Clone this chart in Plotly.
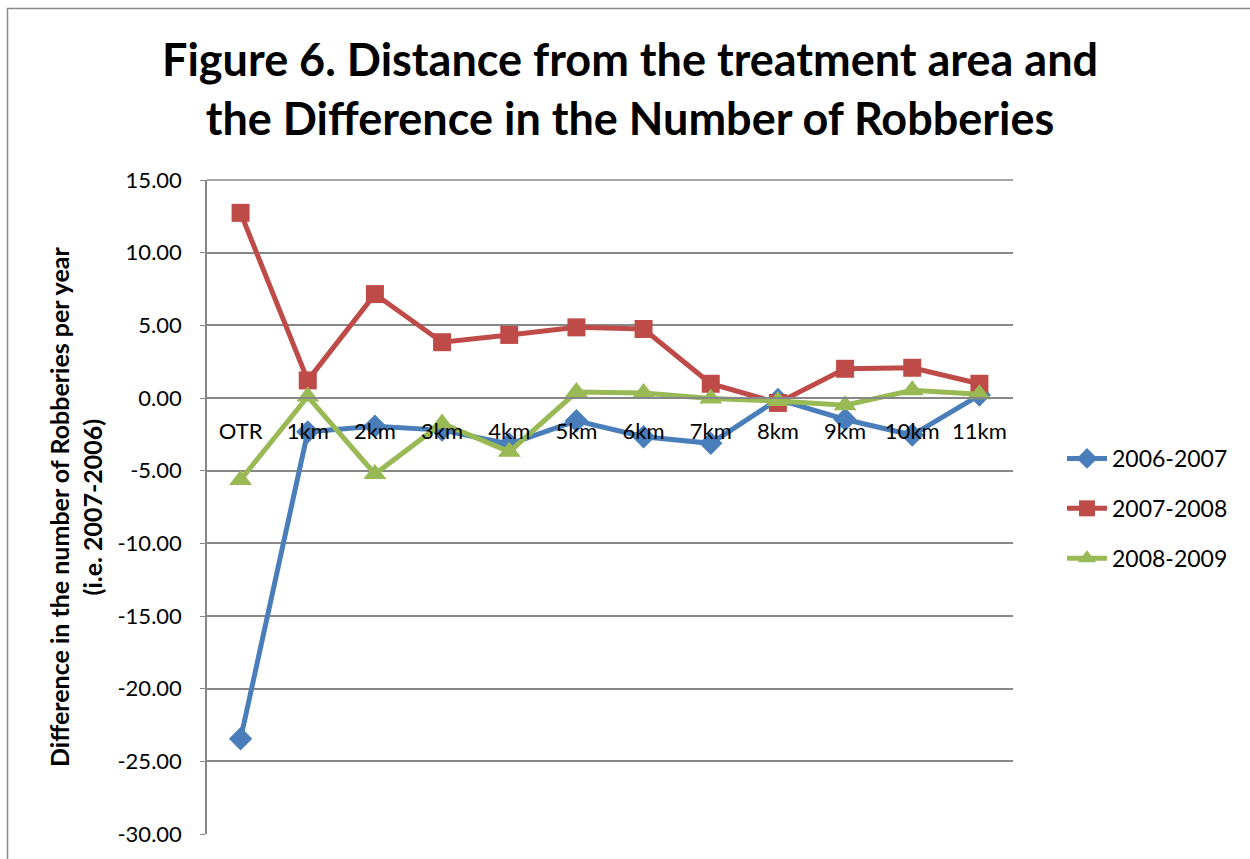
import plotly.graph_objects as go

# Distance bands from the treatment area
categories = ["OTR", "1km", "2km", "3km", "4km", "5km", "6km", "7km", "8km", "9km", "10km", "11km"]

# Year-over-year difference in robberies per band
diff_2006_2007 = [-23.45, -2.33, -1.94, -2.21, -3.17, -1.57, -2.67, -3.12, -0.10, -1.48, -2.55, 0.20]
diff_2007_2008 = [12.74, 1.21, 7.15, 3.84, 4.34, 4.86, 4.75, 0.98, -0.34, 2.01, 2.08, 0.98]
diff_2008_2009 = [-5.64, 0.10, -5.23, -1.75, -3.70, 0.41, 0.34, -0.04, -0.20, -0.50, 0.53, 0.25]

y_ticks = [15, 10, 5, 0, -5, -10, -15, -20, -25, -30]
y_tick_text = [f"{v:.2f}" for v in y_ticks]

FONT = "Lato"
GRID = "#878787"

series = [
    ("2006-2007", diff_2006_2007, "#4A7EBB", "diamond", 18),
    ("2007-2008", diff_2007_2008, "#BE4B48", "square", 18),
    ("2008-2009", diff_2008_2009, "#98B954", "triangle-up", 20),
]

fig = go.Figure()
for name, vals, color, symbol, size in series:
    fig.add_trace(go.Scatter(
        x=categories, y=vals, name=name, mode="lines+markers",
        line=dict(color=color, width=5),
        marker=dict(symbol=symbol, size=size, color=color),
        legendgroup=name,
    ))

W, H = 1250, 859
L, R, T, B = 207, 237, 180, 25
pw, ph = W - L - R, H - T - B


def px_x(px):
    return (px - L) / pw


def px_y(py):
    return (H - B - py) / ph


fig.update_layout(
    width=W, height=H,
    margin=dict(l=L, r=R, t=T, b=B),
    paper_bgcolor="white", plot_bgcolor="white",
    font=dict(family=FONT, color="black", size=22),
    showlegend=True,
    legend=dict(
        x=px_x(1062), y=px_y(437), xanchor="left", yanchor="top",
        font=dict(size=23), tracegroupgap=17, itemwidth=40,
        bgcolor="rgba(0,0,0,0)",
    ),
    xaxis=dict(
        type="category", range=[-0.5, 11.5],
        anchor="free", position=30 / 45,
        showline=True, linecolor=GRID, linewidth=1.5,
        showgrid=False, ticks="", ticklabelstandoff=14,
        tickfont=dict(size=22, family=FONT),
        zeroline=False,
    ),
    yaxis=dict(
        range=[-30, 15], tickvals=y_ticks, ticktext=y_tick_text,
        showline=True, linecolor=GRID, linewidth=1.5,
        showgrid=True, gridcolor=GRID, gridwidth=1.5,
        ticks="outside", ticklen=5, tickcolor=GRID,
        ticklabelstandoff=14,
        tickfont=dict(size=22, family=FONT),
        zeroline=False,
    ),
)

# Chart frame
fig.add_shape(type="rect", xref="paper", yref="paper",
              x0=px_x(7.5), x1=px_x(1260), y0=px_y(875), y1=px_y(8.5),
              line=dict(color="#8A8A8A", width=1.5), fillcolor="rgba(0,0,0,0)", layer="below")
# Closing line at top of plotting area
fig.add_shape(type="line", xref="paper", yref="paper",
              x0=0, x1=1, y0=1, y1=1, line=dict(color=GRID, width=1.5))

fig.add_annotation(
    text="Figure 6. Distance from the treatment area and<br>the Difference in the Number of Robberies",
    xref="paper", yref="paper", x=px_x(630), y=px_y(89),
    xanchor="center", yanchor="middle", showarrow=False,
    font=dict(family=FONT, size=45, color="black", weight="bold"),
)

fig.add_annotation(
    text="Difference in the number of Robberies per year<br>(i.e. 2007-2006)",
    xref="paper", yref="paper", x=px_x(75), y=px_y(507),
    xanchor="center", yanchor="middle", showarrow=False, textangle=-90,
    font=dict(family=FONT, size=25, color="black", weight="bold"),
)

fig.write_html("out.html")
